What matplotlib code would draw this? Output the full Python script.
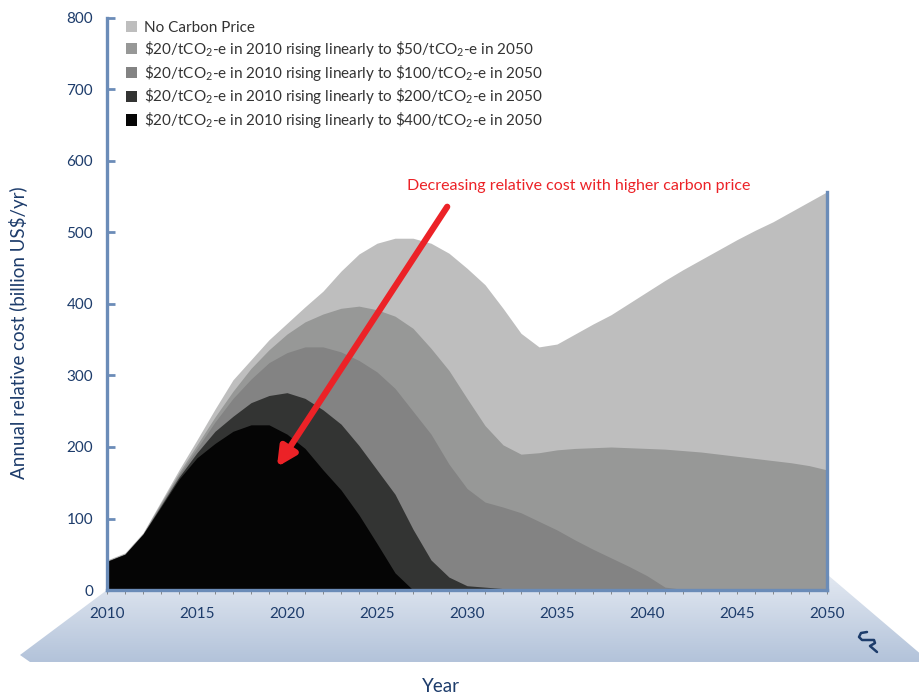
import numpy as np
import matplotlib
matplotlib.use('Agg')
import matplotlib.pyplot as plt
from matplotlib.patches import Polygon, Patch

plt.rcParams['font.family'] = ['Lato', 'DejaVu Sans']
plt.rcParams['mathtext.default'] = 'regular'

years = np.arange(2010, 2051)

no_price = [42, 52, 80, 124, 168, 210, 253, 294, 322, 350,
            373, 396, 418, 446, 470, 485, 492, 492, 485, 471,
            450, 427, 394, 359, 340, 344, 358, 372, 385, 401,
            417, 433, 448, 462, 476, 490, 503, 515, 529, 543, 557]
price50 = [41, 51, 79, 122, 164, 203, 242, 278, 310, 336,
           358, 375, 386, 394, 397, 392, 383, 366, 338, 307,
           268, 230, 203, 190, 192, 196, 198, 199, 200, 199,
           198, 197, 195, 193, 190, 187, 184, 181, 178, 174, 168]
price100 = [40, 50, 78, 120, 161, 198, 235, 268, 295, 318,
            332, 340, 340, 333, 321, 305, 282, 250, 218, 176,
            142, 123, 116, 108, 96, 84, 70, 57, 45, 33,
            20, 4, 1, 0, 0, 0, 0, 0, 0, 0, 0]
price200 = [40, 50, 78, 118, 158, 192, 222, 243, 262, 272,
            276, 268, 252, 232, 202, 168, 134, 85, 42, 18,
            6, 4, 2, 0, 0, 0, 0, 0, 0, 0,
            0, 0, 0, 0, 0, 0, 0, 0, 0, 0, 0]
price400 = [40, 50, 78, 116, 155, 185, 205, 222, 231, 231,
            218, 198, 168, 140, 105, 65, 24, 0, 0, 0,
            0, 0, 0, 0, 0, 0, 0, 0, 0, 0,
            0, 0, 0, 0, 0, 0, 0, 0, 0, 0, 0]

series = [no_price, price50, price100, price200, price400]
labels = ['No Carbon Price',
          r'\$20/tCO$_2$-e in 2010 rising linearly to \$50/tCO$_2$-e in 2050',
          r'\$20/tCO$_2$-e in 2010 rising linearly to \$100/tCO$_2$-e in 2050',
          r'\$20/tCO$_2$-e in 2010 rising linearly to \$200/tCO$_2$-e in 2050',
          r'\$20/tCO$_2$-e in 2010 rising linearly to \$400/tCO$_2$-e in 2050']
colors = ['#bebebe', '#979897', '#838383', '#333433', '#050505']

W, H = 920, 696
spine_col = '#6b8cb8'
text_col = '#1d3c6b'

fig = plt.figure(figsize=(W / 100, H / 100), dpi=100)

# background floor (pixel coordinates)
bg = fig.add_axes([0, 0, 1, 1], zorder=0)
bg.set_xlim(0, W)
bg.set_ylim(H, 0)
bg.axis('off')
floor = Polygon([(107, 590), (822, 570), (930, 662), (30, 662), (20, 655)],
                closed=True, facecolor='none', edgecolor='none')
bg.add_patch(floor)
grad = np.linspace(0, 1, 100).reshape(-1, 1)
cmap = matplotlib.colors.LinearSegmentedColormap.from_list('fl', ['#e2e8f1', '#b3c3da'])
im = bg.imshow(grad, cmap=cmap, extent=(0, W, 662, 575), aspect='auto')
im.set_clip_path(floor)

# logo-ish glyph
bg.plot([867, 861, 859, 862, 874, 875, 870, 877], [632, 633, 637, 640, 640, 643, 646, 652],
        color='#1d3c6b', lw=1.8, solid_capstyle='round')

ax = fig.add_axes([107 / W, (H - 590) / H, 720 / W, 572 / H], zorder=1)
ax.set_facecolor('white')

for vals, col in zip(series, colors):
    ax.fill_between(years, 0, vals, color=col, lw=0)

ax.set_xlim(2010, 2050)
ax.set_ylim(0, 800)

for s in ['left', 'right', 'bottom']:
    ax.spines[s].set_color(spine_col)
    ax.spines[s].set_linewidth(2.4)
ax.spines['top'].set_visible(False)
ax.spines['left'].set_bounds(0, 800)
ax.spines['right'].set_bounds(0, no_price[-1])

ax.set_yticks(range(0, 801, 100))
ax.tick_params(axis='y', direction='in', length=6, width=2, color=spine_col,
               labelcolor=text_col, labelsize=11, pad=10)
ax.set_xticks(range(2010, 2051, 5))
ax.set_xticks(years, minor=True)
ax.tick_params(axis='x', which='both', direction='out', length=3, width=0.6,
               color='#777777', labelcolor=text_col, labelsize=11, pad=9)

ax.set_ylabel('Annual relative cost (billion US$/yr)', color=text_col, fontsize=13.5)
ax.yaxis.set_label_coords(-0.11, 0.45)
fig.text(441 / W, 1 - 686 / H, 'Year', color=text_col, fontsize=13.5, ha='center', va='center')

handles = [Patch(facecolor=c, edgecolor='none') for c in colors]
ax.legend(handles, labels, loc='upper left', bbox_to_anchor=(126 / W, 1 - 21 / H),
          bbox_transform=fig.transFigure, frameon=False, fontsize=11,
          handlelength=0.75, handleheight=0.75, handletextpad=0.4,
          labelspacing=0.25, borderpad=0, borderaxespad=0, labelcolor='#333333')

ax.annotate('', xy=(2019.44, 172), xytext=(2028.9, 536),
            arrowprops=dict(arrowstyle='-|>', color='#ec2227', lw=4.5, mutation_scale=28,
                            shrinkA=0, shrinkB=0))
ax.text(2036.2, 565, 'Decreasing relative cost with higher carbon price', color='#ec2227',
        fontsize=11.5, ha='center', va='center')

fig.savefig('out.png', dpi=100)
